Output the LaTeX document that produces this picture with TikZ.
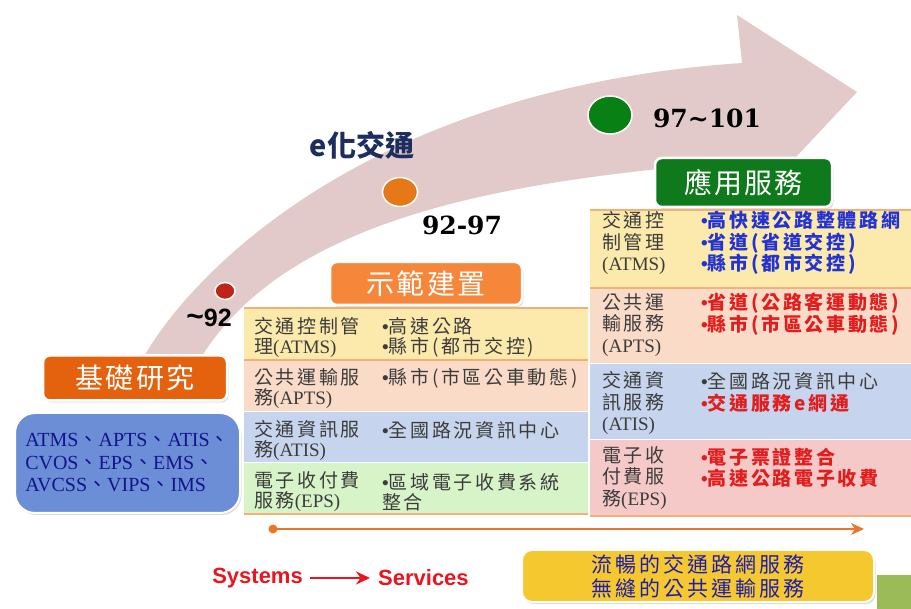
\documentclass[tikz,border=0pt]{standalone}
\usepackage{fontspec}
\setmainfont{Liberation Serif}
\newfontfamily\cjk{Noto Sans CJK TC}[LetterSpace=8]
\newfontfamily\cjkt{Noto Sans CJK TC}[LetterSpace=14]
\newfontfamily\cjkw{Noto Sans CJK TC}
\newfontfamily\numfont{DejaVu Serif}
\newfontfamily\arialf{Liberation Sans}
\newfontfamily\tnr{Liberation Serif}
\newcommand\dun{{\cjkw 、}}
\newcommand\bul{{\arialf •}}
\usetikzlibrary{shadows,arrows.meta}
\definecolor{bandpink}{RGB}{226,202,202}
\definecolor{orangeA}{RGB}{228,98,14}
\definecolor{orangeB}{RGB}{246,134,58}
\definecolor{greenA}{RGB}{14,122,28}
\definecolor{blueboxc}{RGB}{108,142,214}
\definecolor{rowY}{RGB}{252,234,172}
\definecolor{rowP}{RGB}{249,219,200}
\definecolor{rowB}{RGB}{199,212,237}
\definecolor{rowG}{RGB}{215,243,200}
\definecolor{rowR}{RGB}{246,201,201}
\definecolor{sepc}{RGB}{240,176,120}
\definecolor{navyt}{RGB}{20,20,140}
\definecolor{bluet}{RGB}{35,50,210}
\definecolor{redt}{RGB}{225,30,30}
\definecolor{grayt}{RGB}{60,60,60}
\definecolor{orline}{RGB}{236,118,40}
\definecolor{redsys}{RGB}{235,20,30}
\definecolor{yelbox}{RGB}{245,200,48}
\definecolor{yelt}{RGB}{30,30,170}
\definecolor{greenrect}{RGB}{155,187,89}
\definecolor{dotR}{RGB}{192,36,24}
\definecolor{dotO}{RGB}{230,120,24}
\definecolor{dotG}{RGB}{8,128,20}
\definecolor{etxt}{RGB}{30,45,95}
\tikzset{
  hdr/.style={rounded corners=7pt, draw=white, line width=2.5pt, text=white,
    drop shadow={shadow xshift=1.5pt, shadow yshift=-2pt, opacity=0.3},
    font=\cjk\fontsize{28}{30}\selectfont, inner sep=0pt},
  cellm/.style={anchor=west, inner sep=0pt, align=left, text=grayt,
    font=\cjkt\fontsize{19}{20}\selectfont},
  cellr/.style={anchor=west, inner sep=0pt, align=left, text=grayt,
    font=\cjkt\fontsize{19}{21.5}\selectfont},
  dotc/.style={draw=white, line width=1.5pt},
  yearlab/.style={inner sep=0pt, font=\numfont\bfseries\fontsize{25}{25}\selectfont},
}
\begin{document}
\begin{tikzpicture}[x=1pt,y=-1pt]
\useasboundingbox (0,0) rectangle (911,609);
% big curved arrow
\fill[bandpink] (138,368) .. controls (170,300) and (340,90) .. (742,63)
  -- (737,15) -- (857,92) -- (796,157)
  .. controls (560,175) and (290,200) .. (196,366) -- cycle;
% dots
\draw[dotc, fill=dotG] (610,115) ellipse [x radius=22, y radius=19];
\draw[dotc, fill=dotR] (225,291) ellipse [x radius=10, y radius=8.5];
\draw[dotc, fill=dotO] (400,192) ellipse [x radius=17.5, y radius=14.5];
% labels
\node[inner sep=0pt, font=\arialf\bfseries\fontsize{25}{25}\selectfont] (l92) at (209,318) {{\fontsize{30}{30}\selectfont\textasciitilde}92};
\node[yearlab] (l9297) at (462,225) {92-97};
\node[yearlab] (l97101) at (707,118) {97\textasciitilde 101};
\node[inner sep=0pt, text=etxt, font=\cjkw\bfseries\fontsize{29}{29}\selectfont] (etr) at (362,145) {e化交通};
% middle table
\fill[rowY] (244,308) rectangle (588,360);
\fill[rowP] (244,360) rectangle (588,412);
\fill[rowB] (244,412) rectangle (588,463);
\fill[rowG] (244,463) rectangle (588,514);
\draw[sepc, line width=1.2pt] (244,308) -- (588,308);
\draw[sepc, line width=1.2pt] (244,360) -- (588,360);
\draw[white, line width=1pt] (244,412) -- (588,412);
\draw[white, line width=1pt] (244,463) -- (588,463);
\draw[sepc, line width=1.2pt] (244,514) -- (588,514);
\node[cellm] (m1a) at (254,337) {交通控制管\\理{\tnr(ATMS)}};
\node[cellm] (m1b) at (382,337) {\bul 高速公路\\\bul 縣市(都市交控)};
\node[cellm] (m2a) at (254,388) {公共運輸服\\務{\tnr(APTS)}};
\node[cellm] (m2b) at (382,378) {\bul 縣市(市區公車動態)};
\node[cellm] (m3a) at (254,440) {交通資訊服\\務{\tnr(ATIS)}};
\node[cellm] (m3b) at (382,430) {\bul 全國路況資訊中心};
\node[cellm] (m4a) at (254,492) {電子收付費\\服務{\tnr(EPS)}};
\node[cellm] (m4b) at (382,492) {\bul 區域電子收費系統\\整合};
% right table
\fill[rowY] (590,210) rectangle (911,288);
\fill[rowP] (590,288) rectangle (911,364);
\fill[rowB] (590,364) rectangle (911,440);
\fill[rowR] (590,440) rectangle (911,516);
\draw[sepc, line width=1.2pt] (590,210) -- (911,210);
\draw[sepc, line width=1.2pt] (590,288) -- (911,288);
\draw[white, line width=1pt] (590,364) -- (911,364);
\draw[white, line width=1pt] (590,440) -- (911,440);
\draw[sepc, line width=1.2pt] (590,516) -- (911,516);
\node[cellr] (r1a) at (602,243) {交通控\\制管理\\{\tnr(ATMS)}};
\node[cellr, text=bluet, font=\cjkt\bfseries\fontsize{19}{21.5}\selectfont] (r1b) at (701,243) {\bul 高快速公路整體路網\\\bul 省道(省道交控)\\\bul 縣市(都市交控)};
\node[cellr] (r2a) at (602,325) {公共運\\輸服務\\{\tnr(APTS)}};
\node[cellr, text=redt, font=\cjkt\bfseries\fontsize{19}{21.5}\selectfont] (r2b) at (701,314) {\bul 省道(公路客運動態)\\\bul 縣市(市區公車動態)};
\node[cellr] (r3a) at (602,403) {交通資\\訊服務\\{\tnr(ATIS)}};
\node[cellr, text=grayt] (r3b) at (701,392.5) {\bul 全國路況資訊中心\\{\color{redt}\bfseries\bul 交通服務e網通}};
\node[cellr] (r4a) at (602,478) {電子收\\付費服\\務{\tnr(EPS)}};
\node[cellr, text=redt, font=\cjkt\bfseries\fontsize{19}{21.5}\selectfont] (r4b) at (701,467.5) {\bul 電子票證整合\\\bul 高速公路電子收費};
% header boxes
\node[hdr, fill=orangeA, minimum width=184pt, minimum height=45pt] (jc) at (135,378) {基礎研究};
\node[hdr, fill=orangeB, minimum width=192pt, minimum height=43pt] (sf) at (426,283.5) {示範建置};
\node[hdr, fill=greenA, minimum width=177pt, minimum height=49pt] (yy) at (743.5,182.5) {應用服務};
\node[rounded corners=20pt, draw=white, line width=2pt, fill=blueboxc,
  drop shadow={shadow xshift=1.5pt, shadow yshift=-2pt, opacity=0.3},
  minimum width=225pt, minimum height=100pt, inner sep=0pt, text=navyt, align=left,
  font=\tnr\fontsize{20}{22.5}\selectfont] (sys0) at (127.5,463)
  {ATMS\dun APTS\dun ATIS\dun\\CVOS\dun EPS\dun EMS\dun\\AVCSS\dun VIPS\dun IMS};
% timeline
\coordinate (t0) at (273,529);
\coordinate (t1) at (864,529);
\draw[orline, line width=2.2pt, -{Stealth[length=13pt, width=12pt, inset=4pt]}] (t0) -- (t1);
\fill[orline] (t0) circle (4.5);
% systems -> services
\node[anchor=east, inner sep=0pt, text=redsys, font=\arialf\bfseries\fontsize{22}{22}\selectfont] (sys) at (303,578) {Systems};
\node[anchor=west, inner sep=0pt, text=redsys, font=\arialf\bfseries\fontsize{22}{22}\selectfont] (serv) at (378,578) {Services};
\draw[redsys, line width=2.6pt, -{Stealth[length=14pt, width=13pt]}] ([xshift=7pt]sys.east) -- ([xshift=-8pt]serv.west);
% yellow box
\node[rounded corners=10pt, draw=white, line width=2pt, fill=yelbox,
  drop shadow={shadow xshift=1.5pt, shadow yshift=-2pt, opacity=0.3},
  minimum width=352pt, minimum height=52pt, inner sep=0pt, text=yelt, align=left,
  font=\cjkt\fontsize{21}{24}\selectfont] (goal) at (698,576)
  {流暢的交通路網服務\\無縫的公共運輸服務};
% green corner block
\fill[greenrect] (877,575) rectangle (911,609);
\end{tikzpicture}
\end{document}
